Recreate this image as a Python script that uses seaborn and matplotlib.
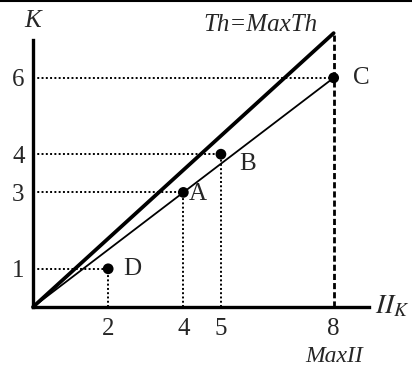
import matplotlib
matplotlib.use("Agg")
import matplotlib.pyplot as plt
import seaborn as sns
from matplotlib import font_manager
from matplotlib.lines import Line2D

# points on the chart
point_names = ["D", "A", "B", "C"]
point_x = [2, 4, 5, 8]
point_y = [1, 3, 4, 6]

# the two rays from the origin
th_x = [0, 8]
th_y = [0, 7.17]
thin_x = [0, 8]
thin_y = [0, 6]

x_ticks = [2, 4, 5, 8]
y_ticks = [1, 3, 4, 6]
max_ii = 8

sns.set_style("white")
names = sorted({f.name for f in font_manager.fontManager.ttflist})
serif = [n for n in names if "Liberation Serif" in n or "Times" in n]
plt.rcParams["font.family"] = serif[:1] + ["DejaVu Serif"]
plt.rcParams["mathtext.fontset"] = "stix"

fig = plt.figure(figsize=(4.12, 3.66), dpi=100)
ax = fig.add_axes([33 / 412, 59 / 366, 336 / 412, 267 / 366])

# dotted guide lines from axes to the points
for x, y in zip(point_x, point_y):
    ax.plot([0, x], [y, y], color="black", lw=1.4, linestyle=(0, (1, 1.2)))
    if x != max_ii:
        ax.plot([x, x], [0, y], color="black", lw=1.4, linestyle=(0, (1, 1.2)))

# dashed limit at MaxII
ax.plot([max_ii, max_ii], [0, th_y[1]], color="black", lw=2.0,
        linestyle=(0, (2.2, 1.1)), clip_on=False)

sns.lineplot(x=th_x, y=th_y, ax=ax, color="black", lw=2.7, clip_on=False)
sns.lineplot(x=thin_x, y=thin_y, ax=ax, color="black", lw=1.3, clip_on=False)
sns.scatterplot(x=point_x, y=point_y, ax=ax, color="black", s=60,
                edgecolor="none", zorder=5, clip_on=False)

offsets = {"D": (11, 0), "A": (4, -1), "B": (13, -7), "C": (14, 0)}
for name, x, y in zip(point_names, point_x, point_y):
    ax.annotate(name, (x, y), xytext=offsets[name], textcoords="offset points",
                ha="left", va="center", fontsize=18)

ax.text(6.04, 7.38, "Th=MaxTh", style="italic", fontsize=18,
        ha="center", va="center", clip_on=False)
ax.text(0, 7.5, "K", style="italic", fontsize=18, ha="center", va="center")
ax.text(9.55, 0.0, r"$\mathit{II}_K$", fontsize=20, ha="center", va="center")
ax.text(max_ii, -1.3, "MaxII", style="italic", fontsize=17,
        ha="center", va="center")

ax.set_xlim(0, 8.94)
ax.set_ylim(0, 6.99)
ax.set_xticks(x_ticks)
ax.set_yticks(y_ticks)
ax.tick_params(axis="both", length=0, labelsize=18)
ax.tick_params(axis="x", pad=8)
ax.tick_params(axis="y", pad=6)

sns.despine(ax=ax)
for side in ["left", "bottom"]:
    ax.spines[side].set_linewidth(2.4)
    ax.spines[side].set_color("black")

fig.add_artist(Line2D([0, 1], [0.996, 0.996], color="black", lw=1.5,
                      transform=fig.transFigure))

fig.savefig("out.png", dpi=100)
